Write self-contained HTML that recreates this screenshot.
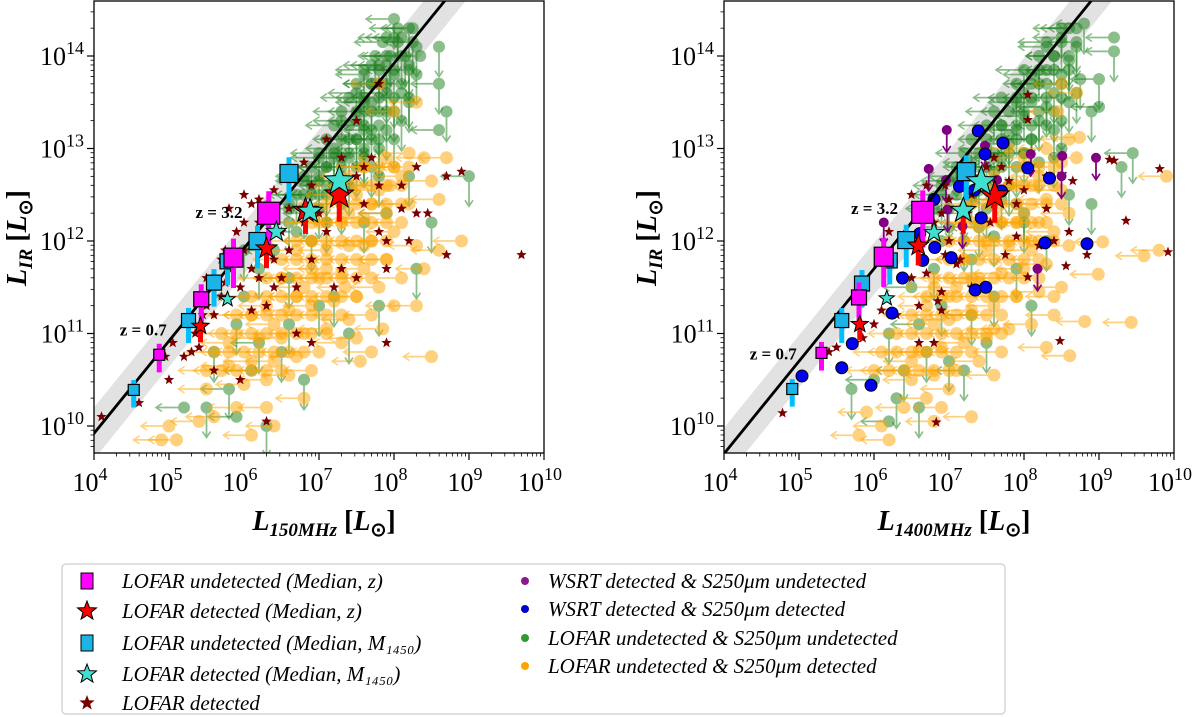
<!DOCTYPE html>
<html><head><meta charset="utf-8">
<style>
html,body{margin:0;padding:0;background:#fff;}
svg{display:block;}
text{font-family:"Liberation Serif",serif;}
</style></head>
<body>
<svg id="chart" width="1200" height="717" viewBox="0 0 1200 717" xmlns="http://www.w3.org/2000/svg"></svg>
<script>
// ---------- LEFT PANEL DATA (log10 values) ----------
const leftGreen = [[8.2,14.3,'B'],[8.0,14.2,'L'],[8.3,14.1,'D'],[7.9,14.0,'L'],[8.1,14.0,'B'],[7.8,13.9,'L'],[8.0,13.8,'D'],[8.2,13.9,'D'],[7.7,13.7,'L'],[7.9,13.6,'B'],[8.1,13.6,'D'],[7.6,13.5,'L'],[7.8,13.4,'L'],[8.0,13.4,'D'],[7.5,13.3,'L'],[7.7,13.2,'B'],[7.9,13.2,'D'],[7.4,13.1,'L'],[7.6,13.0,'L'],[7.8,13.0,'D'],[7.3,12.9,'L'],[7.5,12.8,'B'],[7.7,12.8,'D'],[7.1,12.8,'L'],[7.2,12.6,'L'],[7.4,12.6,'D'],[7.0,12.5,'L'],[7.3,12.4,'B'],[6.9,12.3,'L'],[7.1,12.2,'D'],[6.7,12.1,'L'],[6.9,12.0,'B'],[7.6,13.4,'D'],[7.9,13.9,'B'],[8.1,14.2,'L'],[7.8,13.7,'D'],[7.6,13.2,'D'],[7.4,12.9,'D'],[7.2,13.0,'L'],[7.0,12.7,'L'],[6.8,12.5,'L'],[7.8,13.1,'B'],[8.1,13.3,'D'],[8.6,14.1,'D'],[8.6,13.7,'B'],[8.7,13.4,'D'],[8.6,13.2,'L'],[9.0,12.7,'B'],[8.5,12.2,'D'],[8.3,11.7,'D'],[7.2,11.4,'D'],[7.8,11.3,'D'],[7.4,11.0,'D'],[6.5,10.8,'D'],[6.2,10.9,'B'],[5.6,10.8,'D'],[6.8,10.5,'D'],[5.8,10.4,'B'],[5.5,10.2,'D'],[5.9,10.1,'L'],[6.3,10.0,'D'],[5.2,10.2,'L'],[6.1,10.6,'L'],[6.6,11.1,'D'],[7.0,11.3,'D'],[6.0,11.4,'L'],[6.2,11.7,'D'],[6.6,11.6,'B'],[5.9,11.1,'D'],[7.6,12.2,'D'],[7.9,12.3,'L'],[8.2,12.7,'D'],[6.4,11.9,'L'],[6.6,12.2,'B'],[6.0,11.9,'D'],[7.3,13.3,'L'],[7.5,13.6,'L'],[7.7,13.9,'L'],[7.9,14.2,'L'],[8.0,14.4,'B'],[7.2,12.9,'D'],[7.6,12.9,'D'],[7.0,12.9,'L'],[7.3,12.7,'D'],[6.8,12.7,'L'],[6.6,12.4,'L'],[6.9,12.6,'D'],[7.1,12.6,'B'],[7.5,13.1,'D'],[7.7,13.5,'B'],[8.0,13.1,'D'],[8.2,13.5,'D'],[7.8,12.7,'D'],[8.3,13.8,'D'],[7.6,13.8,'L']];
const leftGreenCoreY = [14.3,14.15,14.0,13.85,13.7,13.55,13.4,13.25,13.1,12.95,12.8,12.65,12.5,12.35];
const leftGreenCoreX = [[8.05,8.25],[7.85,8.05,8.25],[7.75,7.95,8.15,8.35],[7.6,7.8,8.0,8.2],[7.5,7.7,7.9,8.1],[7.4,7.6,7.8,8.0,8.2],[7.3,7.5,7.7,7.9],[7.2,7.4,7.6,7.8],[7.1,7.3,7.5,7.7],[7.0,7.2,7.4,7.6],[6.9,7.1,7.3],[6.8,7.0,7.2],[6.7,6.9,7.1],[6.6,6.8,7.0]];
const leftOrange = [[8.0,13.4,0],[7.8,13.7,0],[8.3,13.5,1],[8.4,12.9,1],[8.7,12.9,1],[8.2,12.95,0],[7.9,12.9,0],[7.6,12.8,0],[8.1,12.7,0],[8.5,12.65,1],[8.6,12.45,1],[7.8,12.55,0],[7.5,12.5,0],[8.2,12.4,0],[7.9,12.3,0],[7.6,12.25,0],[7.3,12.2,0],[8.0,12.1,0],[7.7,12.0,0],[7.4,11.95,0],[7.1,11.9,0],[8.3,11.95,1],[8.6,11.9,1],[7.9,11.8,0],[7.6,11.7,0],[7.3,11.65,0],[7.0,11.6,0],[6.8,11.5,0],[8.1,11.6,0],[7.8,11.5,0],[7.5,11.4,0],[7.2,11.35,0],[6.9,11.3,0],[6.6,11.25,0],[7.7,11.2,0],[7.4,11.15,0],[7.1,11.05,0],[6.8,11.0,0],[6.5,10.95,0],[6.2,10.95,1],[7.3,10.9,0],[7.0,10.8,0],[6.7,10.75,0],[6.4,10.7,0],[6.1,10.7,0],[5.8,10.65,1],[6.9,10.6,0],[6.6,10.55,0],[6.3,10.5,0],[6.0,10.45,1],[7.5,10.95,0],[7.7,10.8,1],[8.5,10.75,1],[5.5,10.4,1],[5.9,10.2,1],[6.3,10.2,1],[5.4,10.05,1],[6.1,9.9,1],[5.0,10.0,1],[5.1,9.85,1],[4.9,9.85,1],[5.6,10.1,1],[6.4,10.0,1],[6.8,10.3,1],[7.0,12.2,0],[6.7,11.9,0],[7.2,12.5,0],[6.5,11.6,0],[6.3,11.3,0],[6.9,12.0,0],[7.4,12.7,0],[8.0,11.3,0],[7.85,11.05,0],[7.55,10.7,1],[8.3,11.3,1],[8.4,11.7,1],[8.9,12.0,1],[7.7,12.4,0],[7.4,12.3,0],[7.1,11.7,0],[6.9,11.7,0],[6.7,11.4,0],[6.4,11.1,0],[6.1,11.2,1],[5.8,10.9,1],[7.6,11.95,0],[7.35,11.5,0],[7.95,12.6,0],[8.0,12.8,1]];
const leftOrangeCoreY = [12.8,12.6,12.4,12.2,12.0,11.8,11.6,11.4,11.2,11.0,10.8,10.6];
const leftOrangeCoreX = [[7.6,7.8,8.0,8.2],[7.3,7.5,7.7,7.9,8.1],[7.1,7.3,7.5,7.7,7.9,8.1],[6.9,7.1,7.3,7.5,7.7,7.9,8.1],[6.7,6.9,7.1,7.3,7.5,7.7,7.9],[6.5,6.7,6.9,7.1,7.3,7.5,7.7,7.9],[6.3,6.5,6.7,6.9,7.1,7.3,7.5,7.7],[6.1,6.3,6.5,6.7,6.9,7.1,7.3,7.5],[5.9,6.1,6.3,6.5,6.7,6.9,7.1,7.3],[5.7,5.9,6.1,6.3,6.5,6.7,6.9,7.1],[5.6,5.8,6.0,6.2,6.4,6.6,6.8],[5.5,5.7,5.9,6.1,6.3,6.5]];
const leftStars = [[4.1,10.1],[4.6,10.25],[4.95,10.75],[5.05,10.9],[5.2,10.75],[5.3,10.8],[5.4,10.85],[5.35,11.0],[5.45,11.2],[5.5,11.3],[5.6,11.2],[5.7,11.4],[5.75,11.55],[5.8,11.7],[5.7,11.8],[5.75,11.9],[5.9,12.1],[6.0,12.2],[5.8,12.35],[6.1,12.4],[6.0,12.5],[6.2,12.45],[6.4,12.55],[6.6,12.75],[6.8,12.85],[7.1,13.1],[7.5,13.3],[7.8,13.7],[6.3,12.0],[6.5,12.1],[6.4,11.8],[6.6,11.9],[6.5,11.6],[6.7,11.5],[6.1,11.7],[6.2,11.6],[6.0,11.9],[6.9,12.6],[7.0,12.3],[7.3,12.9],[7.6,12.8],[7.8,12.6],[7.5,12.7],[7.7,12.9],[8.1,12.6],[8.3,12.8],[7.1,12.1],[7.3,11.7],[7.5,11.6],[7.6,12.4],[7.9,12.0],[8.1,12.35],[8.3,12.3],[7.8,12.1],[8.2,12.0],[6.3,11.3],[6.1,11.25],[6.7,11.0],[6.4,11.5],[5.95,11.5],[6.9,10.9],[5.0,10.5],[5.6,10.6],[6.3,10.05],[5.95,10.5],[7.9,10.9],[8.7,11.85],[8.9,12.75],[9.7,11.85],[8.45,12.3],[8.7,12.7],[7.9,11.7],[7.2,11.5],[6.8,12.2],[6.2,12.2],[6.6,12.35],[6.9,11.8],[5.5,11.6],[5.4,11.4]];
const leftMagX = [4.87,5.43,5.86,6.33];
const leftMagY = [10.77,11.37,11.82,12.30];
const leftCyanX = [4.53,5.26,5.60,5.78,6.18,6.60];
const leftCyanY = [10.39,11.14,11.55,11.78,12.00,12.73];
const leftRedX = [5.42,6.30,6.82,7.27];
const leftRedY = [11.08,11.92,12.33,12.50];
const leftTqX = [5.78,6.43,6.88,7.27];
const leftTqY = [11.37,12.10,12.32,12.65];
const leftBlue = [];
const leftPurple = [];
const leftOffset = 5.92;

// ---------- RIGHT PANEL DATA (log10 values) ----------
const rightGreen = [[8.8,14.35,'B'],[8.6,14.3,'L'],[8.5,14.2,'L'],[8.7,14.1,'D'],[9.2,14.2,'L'],[9.2,14.05,'B'],[8.4,14.0,'L'],[8.6,13.95,'D'],[8.3,13.85,'L'],[8.5,13.8,'B'],[8.75,13.75,'D'],[9.0,13.75,'B'],[8.2,13.7,'L'],[8.4,13.6,'D'],[8.1,13.5,'L'],[8.3,13.45,'B'],[8.6,13.5,'D'],[9.0,13.45,'L'],[8.0,13.35,'L'],[8.2,13.3,'D'],[7.9,13.2,'L'],[8.1,13.1,'B'],[8.4,13.2,'D'],[7.8,13.05,'L'],[8.0,12.95,'D'],[7.7,12.9,'L'],[7.9,12.8,'B'],[8.2,12.85,'D'],[7.6,12.75,'L'],[7.8,12.6,'D'],[7.5,12.6,'L'],[7.7,12.45,'B'],[7.3,12.45,'L'],[7.5,12.35,'D'],[7.2,12.3,'L'],[7.4,12.15,'B'],[7.0,12.15,'L'],[7.2,12.0,'D'],[6.9,12.6,'L'],[7.1,12.7,'L'],[7.3,12.85,'L'],[7.5,13.0,'L'],[7.7,13.25,'L'],[7.9,13.5,'L'],[8.1,13.8,'L'],[8.3,14.1,'L'],[8.5,13.3,'D'],[8.7,13.6,'D'],[8.4,12.9,'D'],[9.45,12.95,'B'],[9.3,12.8,'D'],[8.9,12.4,'D'],[8.6,12.5,'D'],[8.0,12.3,'D'],[8.3,12.0,'D'],[7.9,11.7,'D'],[8.1,11.3,'D'],[7.6,11.4,'D'],[7.3,11.2,'B'],[6.9,11.3,'D'],[6.6,11.1,'L'],[6.2,11.0,'D'],[6.7,10.8,'D'],[7.0,10.7,'D'],[7.5,10.9,'D'],[6.4,10.6,'B'],[6.0,10.5,'L'],[5.7,10.4,'D'],[6.3,10.3,'D'],[6.6,10.2,'D'],[6.2,10.05,'L'],[7.2,10.6,'B'],[6.5,11.5,'L'],[6.8,11.7,'D'],[6.9,12.0,'L'],[7.6,12.05,'D'],[7.9,12.4,'L'],[8.0,12.2,'B'],[7.3,11.8,'D'],[8.5,13.0,'D'],[8.9,13.4,'D'],[7.4,12.55,'D'],[7.6,12.9,'D'],[7.8,13.15,'D'],[8.0,13.6,'D']];
const rightGreenCoreY = [14.3,14.15,14.0,13.85,13.7,13.55,13.4,13.25,13.1,12.95,12.8,12.65,12.5,12.35];
const rightGreenCoreX = [[8.5,8.7],[8.3,8.5,8.7],[8.2,8.4,8.6],[8.0,8.2,8.4,8.6],[7.9,8.1,8.3,8.5],[7.7,7.9,8.1,8.3,8.5],[7.6,7.8,8.0,8.2,8.4],[7.5,7.7,7.9,8.1,8.3],[7.3,7.5,7.7,7.9,8.1],[7.2,7.4,7.6,7.8,8.0],[7.1,7.3,7.5,7.7],[7.0,7.2,7.4,7.6],[6.9,7.1,7.3],[6.8,7.0,7.2]];
const rightOrange = [[8.5,13.7,0],[8.7,13.6,0],[8.45,13.4,0],[8.74,13.12,1],[8.6,13.1,1],[8.3,13.0,0],[8.0,12.9,0],[8.5,12.85,0],[9.9,12.7,1],[8.2,12.7,0],[7.9,12.6,0],[8.5,12.55,0],[7.6,12.45,0],[8.3,12.45,0],[8.0,12.3,0],[7.7,12.2,0],[7.4,12.15,0],[8.4,12.1,0],[8.1,12.0,0],[7.8,11.95,0],[7.5,11.9,0],[7.2,11.8,0],[9.05,11.99,1],[8.6,11.95,0],[9.6,11.84,1],[9.8,11.9,1],[8.3,11.75,0],[8.0,11.7,0],[7.7,11.65,0],[7.4,11.55,0],[7.1,11.5,0],[8.99,11.64,1],[8.5,11.5,0],[8.2,11.45,0],[7.9,11.4,0],[7.6,11.3,0],[7.3,11.25,0],[7.0,11.15,0],[6.8,11.1,0],[8.4,11.2,0],[8.1,11.1,0],[7.8,11.05,0],[7.5,10.95,0],[7.2,10.9,0],[6.9,10.85,0],[6.6,10.8,0],[8.81,11.13,1],[9.43,11.12,1],[8.3,10.85,0],[7.7,10.8,0],[7.4,10.7,0],[7.1,10.6,0],[6.8,10.55,0],[6.5,10.5,1],[8.61,10.76,1],[7.6,10.55,1],[7.0,10.4,1],[6.7,10.3,1],[6.4,10.2,1],[6.8,10.05,1],[5.9,10.15,1],[6.1,10.0,1],[6.2,9.85,1],[5.8,9.9,1],[6.9,10.2,1],[7.3,10.1,1],[6.5,10.7,0],[7.0,12.0,0],[7.3,12.4,0],[7.6,12.7,0],[7.8,13.0,0],[7.3,11.6,0],[7.0,11.4,0],[6.7,11.3,0],[7.9,12.2,0],[8.2,12.2,0],[8.6,12.3,0],[8.7,12.9,1],[8.1,11.9,0],[7.6,11.05,0],[6.8,11.5,0],[7.15,12.2,0],[8.1,12.6,0],[7.5,12.0,0],[8.4,11.4,0]];
const rightOrangeCoreY = [12.8,12.6,12.4,12.2,12.0,11.8,11.6,11.4,11.2,11.0,10.8,10.6];
const rightOrangeCoreX = [[8.0,8.2,8.4],[7.8,8.0,8.2,8.4],[7.5,7.7,7.9,8.1,8.3,8.5],[7.3,7.5,7.7,7.9,8.1,8.3],[7.2,7.4,7.6,7.8,8.0,8.2,8.4],[7.0,7.2,7.4,7.6,7.8,8.0,8.2],[6.8,7.0,7.2,7.4,7.6,7.8,8.0,8.2],[6.7,6.9,7.1,7.3,7.5,7.7,7.9],[6.5,6.7,6.9,7.1,7.3,7.5,7.7],[6.3,6.5,6.7,6.9,7.1,7.3,7.5,7.7],[6.1,6.3,6.5,6.7,6.9,7.1,7.3],[6.0,6.2,6.4,6.6,6.8,7.0]];
const rightStars = [[4.78,10.14],[5.75,10.9],[5.85,10.95],[6.0,11.1],[6.1,11.25],[6.3,11.2],[6.5,11.6],[6.7,11.65],[6.85,11.35],[6.9,11.45],[6.6,11.3],[6.8,10.9],[6.6,10.9],[6.83,10.04],[5.4,10.8],[5.5,10.85],[6.9,11.25],[6.95,11.85],[7.0,12.0],[7.1,11.75],[6.8,12.2],[6.9,12.3],[7.0,12.45],[7.2,12.6],[7.3,12.5],[7.4,12.7],[7.5,12.8],[7.6,12.9],[7.7,12.8],[7.8,12.65],[8.05,12.8],[6.7,12.6],[6.5,12.5],[6.2,12.1],[7.55,12.2],[7.75,11.85],[7.9,12.05],[8.0,12.55],[8.3,12.35],[8.4,12.0],[8.6,12.1],[8.56,11.73],[8.05,11.61],[8.48,10.92],[8.05,13.58],[8.05,13.31],[9.14,12.88],[9.2,12.87],[9.36,12.22],[9.81,12.78],[9.92,11.88],[8.84,11.85],[8.2,11.95],[7.3,11.5],[7.15,11.8],[7.6,12.4],[8.3,12.7],[7.9,12.4],[8.65,12.65],[7.25,12.3],[6.95,12.6]];
const rightBlue = [[7.39,13.19],[7.72,13.06],[7.48,12.94],[8.05,12.79],[8.34,12.68],[7.14,12.59],[7.34,12.55],[7.70,12.54],[6.80,12.45],[7.43,12.25],[6.61,12.08],[6.81,11.93],[6.65,11.79],[7.03,11.82],[8.28,11.98],[8.84,11.97],[6.38,11.60],[7.35,11.47],[7.49,11.50],[6.24,11.22],[5.71,10.89],[5.57,10.63],[5.04,10.54],[5.96,10.44]];
const rightPurple = [[6.97,13.20],[7.48,13.03],[6.73,12.78],[6.96,12.66],[7.64,12.66],[8.09,12.94],[8.51,12.92],[8.50,12.70],[8.96,12.90],[6.13,12.20],[6.98,12.34],[7.18,12.16],[8.18,11.70]];
const rightMagX = [5.30,5.80,6.13,6.65];
const rightMagY = [10.79,11.39,11.83,12.31];
const rightCyanX = [4.91,5.57,5.84,6.21,6.43,7.23];
const rightCyanY = [10.40,11.14,11.54,11.79,12.01,12.75];
const rightRedX = [5.81,6.59,7.19,7.61];
const rightRedY = [11.10,11.95,12.33,12.49];
const rightTqX = [6.17,6.80,7.19,7.43];
const rightTqY = [11.38,12.09,12.33,12.64];
const rightOffset = 5.70;

const xTicks = [4,5,6,7,8,9,10];
const yTicks = [10,11,12,13,14];
const magSizes = [11,15,19,22];
const cyanSizes = [11,14,15,15,17,18];
const NS = 'http://www.w3.org/2000/svg';
const svg = document.getElementById('chart');

function mk(tag, attrs, parent){
  const e = document.createElementNS(NS, tag);
  for (const k in attrs) e.setAttribute(k, attrs[k]);
  (parent||svg).appendChild(e);
  return e;
}
function starPts(cx, cy, R){
  const r = R*0.42; let p=[];
  for (let i=0;i<10;i++){const a=-Math.PI/2+i*Math.PI/5; const rr=i%2?r:R; p.push((cx+rr*Math.cos(a)).toFixed(1)+','+(cy+rr*Math.sin(a)).toFixed(1));}
  return p.join(' ');
}
function expandCore(ys, xs, tagFn){
  const out=[];
  ys.forEach((y,i)=>xs[i].forEach((x,j)=>out.push([x,y,tagFn(i,j)])));
  return out;
}

function drawPanel(P){
  const X0=P.x0, Y0=1, Y1=453;
  const sx = v => X0 + (v-4)*75;
  const sy = v => 56 + (14-v)*92.5;
  const g = mk('g', {});
  
  
  const clipId = P.name+'-clip';
  const defs = mk('defs', {}, g);
  const cp = mk('clipPath', {id: clipId}, defs);
  mk('rect', {x:X0, y:Y0, width:450, height:Y1-Y0}, cp);
  const plot = mk('g', {'clip-path':'url(#'+clipId+')'}, g);
  
  

  const off = P.offset;
  const band = mk('polygon', {points:
    sx(3)+','+sy(3+off+0.28)+' '+sx(10)+','+sy(10+off+0.28)+' '+sx(10)+','+sy(10+off-0.28)+' '+sx(3)+','+sy(3+off-0.28),
    fill:'#e2e2e2'}, plot);
  
  

  function arrowLeft(parent, x, y, col){
    mk('line',{x1:x,y1:y,x2:x-28,y2:y,stroke:col,'stroke-width':1.8},parent);
    mk('polyline',{points:(x-22)+','+(y-4)+' '+(x-28)+','+y+' '+(x-22)+','+(y+4),fill:'none',stroke:col,'stroke-width':1.6},parent);
  }
  function arrowDown(parent, x, y, col, len){
    mk('line',{x1:x,y1:y,x2:x,y2:y+len,stroke:col,'stroke-width':1.8},parent);
    mk('polyline',{points:(x-4)+','+(y+len-6)+' '+x+','+(y+len)+' '+(x+4)+','+(y+len-6),fill:'none',stroke:col,'stroke-width':1.6},parent);
  }
  const gg = mk('g', {}, plot);
  
  
  const greenAll = P.green.concat(expandCore(P.greenCoreY, P.greenCoreX, (i,j)=>((i+j)%3===0?'B':((i+j)%2?'L':'D'))));
  greenAll.forEach(d=>{
    const x=sx(d[0]), y=sy(d[1]);
    const pt = mk('g',{opacity:0.5},gg);
    
    
    if (d[2]==='L'||d[2]==='B') arrowLeft(pt,x,y,'#1a7f1a');
    if (d[2]==='D'||d[2]==='B') arrowDown(pt,x,y,'#1a7f1a',30);
    mk('circle',{cx:x,cy:y,r:6,fill:'#1a7f1a'},pt);
  });
  const og = mk('g', {}, plot);
  
  
  const orangeAll = P.orange.concat(expandCore(P.orangeCoreY, P.orangeCoreX, ()=>1));
  orangeAll.forEach(d=>{
    const x=sx(d[0]), y=sy(d[1]);
    const pt = mk('g',{opacity:0.5},og);
    
    
    arrowLeft(pt,x,y,'#ffa500');
    mk('circle',{cx:x,cy:y,r:6.5,fill:'#ffa500'},pt);
  });
  P.purple.forEach(d=>{
    const x=sx(d[0]), y=sy(d[1]);
    const pt = mk('g',{},plot);
    
    
    arrowDown(pt,x,y,'#800080',22);
    mk('circle',{cx:x,cy:y,r:5,fill:'#800080'},pt);
  });
  P.stars.forEach(d=>{
    const s = mk('polygon',{points:starPts(sx(d[0]),sy(d[1]),5.5),fill:'#7a0000'},plot);
    
    
  });
  P.blue.forEach(d=>{
    const c = mk('circle',{cx:sx(d[0]),cy:sy(d[1]),r:6,fill:'#0000ee',stroke:'#000','stroke-width':1},plot);
    
    
  });
  const ln = mk('line',{x1:sx(3),y1:sy(3+off),x2:sx(10),y2:sy(10+off),stroke:'#000','stroke-width':2.8},plot);
  
  

  P.cyanX.forEach((v,i)=>{
    const x=sx(v), y=sy(P.cyanY[i]), s=cyanSizes[i];
    mk('line',{x1:x,y1:y-s*0.9,x2:x,y2:y+s*1.6,stroke:'#00bfff','stroke-width':5},plot);
    const r = mk('rect',{x:x-s/2,y:y-s/2,width:s,height:s,fill:'#1cb3e6',stroke:'#000','stroke-width':1.2},plot);
    
    
  });
  P.magX.forEach((v,i)=>{
    const x=sx(v), y=sy(P.magY[i]), s=magSizes[i];
    mk('line',{x1:x,y1:y-s*1.0,x2:x,y2:y+s*1.6,stroke:'#ff00ff','stroke-width':5},plot);
    const r = mk('rect',{x:x-s/2,y:y-s/2,width:s,height:s,fill:'#ff00ff',stroke:'#000','stroke-width':1.2},plot);
    
    
  });
  P.redX.forEach((v,i)=>{
    const x=sx(v), y=sy(P.redY[i]), R=9+i*2;
    mk('line',{x1:x,y1:y,x2:x,y2:y+R*1.8,stroke:'#ff0000','stroke-width':5},plot);
    const s = mk('polygon',{points:starPts(x,y,R),fill:'#ff0000',stroke:'#000','stroke-width':1},plot);
    
    
  });
  P.tqX.forEach((v,i)=>{
    const x=sx(v), y=sy(P.tqY[i]), R=8+i*2.5;
    const s = mk('polygon',{points:starPts(x,y,R),fill:'#40e0d0',stroke:'#000','stroke-width':1},plot);
    
    
  });

  const z1 = mk('text',{x:sx(P.z32[0]),y:sy(P.z32[1]),'font-size':17,'font-weight':'bold','text-anchor':'end'},g);
  z1.textContent='z = 3.2';
  
  
  const z2 = mk('text',{x:sx(P.z07[0]),y:sy(P.z07[1]),'font-size':17,'font-weight':'bold','text-anchor':'end'},g);
  z2.textContent='z = 0.7';
  
  

  const fr = mk('rect',{x:X0,y:Y0,width:450,height:Y1-Y0,fill:'none',stroke:'#000','stroke-width':1.3},g);
  
  

  const xa = mk('g',{},g);
  
  
  xTicks.forEach(t=>{
    const x=sx(t);
    mk('line',{x1:x,y1:Y1,x2:x,y2:Y1+7,stroke:'#000','stroke-width':1.2},xa);
    if (t<10) for(let k=2;k<10;k++){const xm=sx(t+Math.log10(k)); mk('line',{x1:xm,y1:Y1,x2:xm,y2:Y1+3.5,stroke:'#000','stroke-width':0.8},xa);}
    const tx = mk('text',{x:x-4,y:Y1+38,'font-size':26,'text-anchor':'middle'},xa);
    
    
    tx.innerHTML = '10<tspan dy="-11" font-size="18">'+t+'</tspan>';
  });
  const xl = mk('text',{x:X0+230,y:530,'font-size':28,'font-weight':'bold','text-anchor':'middle'},g);
  
  
  xl.innerHTML = '<tspan font-style="italic">L</tspan><tspan font-size="19" dy="6" font-style="italic">'+P.xsub+'</tspan><tspan dy="-6"> [</tspan><tspan font-style="italic">L</tspan><tspan font-size="19" dy="6">⊙</tspan><tspan dy="-6">]</tspan>';

  const ya = mk('g',{},g);
  
  
  for (let d=9; d<=14; d++){
    for(let k=1;k<10;k++){
      const v=d+Math.log10(k); const y=sy(v);
      if (y<Y0||y>Y1) continue;
      mk('line',{x1:X0-(k===1?7:3.5),y1:y,x2:X0,y2:y,stroke:'#000','stroke-width':k===1?1.2:0.8},ya);
    }
  }
  yTicks.forEach(t=>{
    const ty = mk('text',{x:X0-10,y:sy(t)+9,'font-size':26,'text-anchor':'end'},ya);
    
    
    ty.innerHTML = '10<tspan dy="-11" font-size="18">'+t+'</tspan>';
  });
  const yl = mk('text',{x:0,y:0,'font-size':28,'font-weight':'bold','text-anchor':'middle',transform:'translate('+(X0-68)+',238) rotate(-90)'},g);
  
  
  yl.innerHTML = '<tspan font-style="italic">L</tspan><tspan font-size="19" dy="6" font-style="italic">IR</tspan><tspan dy="-6"> [</tspan><tspan font-style="italic">L</tspan><tspan font-size="19" dy="6">⊙</tspan><tspan dy="-6">]</tspan>';
}

drawPanel({name:'left', x0:94, offset:leftOffset, green:leftGreen, greenCoreY:leftGreenCoreY, greenCoreX:leftGreenCoreX,
  orange:leftOrange, orangeCoreY:leftOrangeCoreY, orangeCoreX:leftOrangeCoreX, stars:leftStars, blue:leftBlue, purple:leftPurple,
  magX:leftMagX, magY:leftMagY, cyanX:leftCyanX, cyanY:leftCyanY, redX:leftRedX, redY:leftRedY, tqX:leftTqX, tqY:leftTqY,
  xsub:'150MHz', z32:[5.98,12.25], z07:[4.97,10.98]});
drawPanel({name:'right', x0:724, offset:rightOffset, green:rightGreen, greenCoreY:rightGreenCoreY, greenCoreX:rightGreenCoreX,
  orange:rightOrange, orangeCoreY:rightOrangeCoreY, orangeCoreX:rightOrangeCoreX, stars:rightStars, blue:rightBlue, purple:rightPurple,
  magX:rightMagX, magY:rightMagY, cyanX:rightCyanX, cyanY:rightCyanY, redX:rightRedX, redY:rightRedY, tqX:rightTqX, tqY:rightTqY,
  xsub:'1400MHz', z32:[6.32,12.29], z07:[4.97,10.72]});

const lg = mk('g',{});


mk('rect',{x:62,y:564,width:943,height:150,rx:4,fill:'#fff',stroke:'#cccccc','stroke-width':1.2},lg);
const legItems = [
  {x:87,y:581,t:'LOFAR undetected (Median, z)',k:'sq',c:'#ff00ff'},
  {x:87,y:611,t:'LOFAR detected (Median, z)',k:'star',c:'#ff0000'},
  {x:87,y:643,t:'LOFAR undetected (Median, M₁₄₅₀)',k:'sq',c:'#1cb3e6'},
  {x:87,y:674,t:'LOFAR detected (Median, M₁₄₅₀)',k:'star',c:'#40e0d0'},
  {x:87,y:703,t:'LOFAR detected',k:'dstar',c:'#7a0000'},
  {x:542,y:581,t:'WSRT detected & S250μm undetected',k:'dot',c:'#8b1a8b'},
  {x:542,y:609,t:'WSRT detected & S250μm detected',k:'dot',c:'#0000cc'},
  {x:542,y:638,t:'LOFAR undetected & S250μm undetected',k:'dot',c:'#2e9b2e'},
  {x:542,y:666,t:'LOFAR undetected & S250μm detected',k:'dot',c:'#ffa500'}
];
legItems.forEach(it=>{
  const e = mk('g',{},lg);
  
  
  if (it.k==='sq') mk('rect',{x:it.x-6,y:it.y-8,width:12,height:16,fill:it.c,stroke:'#000','stroke-width':1},e);
  if (it.k==='star') mk('polygon',{points:starPts(it.x,it.y,10),fill:it.c,stroke:'#000','stroke-width':1},e);
  if (it.k==='dstar') mk('polygon',{points:starPts(it.x,it.y,8),fill:it.c},e);
  if (it.k==='dot') mk('circle',{cx:it.x-17,cy:it.y,r:4,fill:it.c},e);
  const t = mk('text',{x:it.k==='dot'?it.x+6:it.x+35,y:it.y+7,'font-size':21,'font-style':'italic'},e);
  t.textContent = it.t;
});
</script>
</body></html>
